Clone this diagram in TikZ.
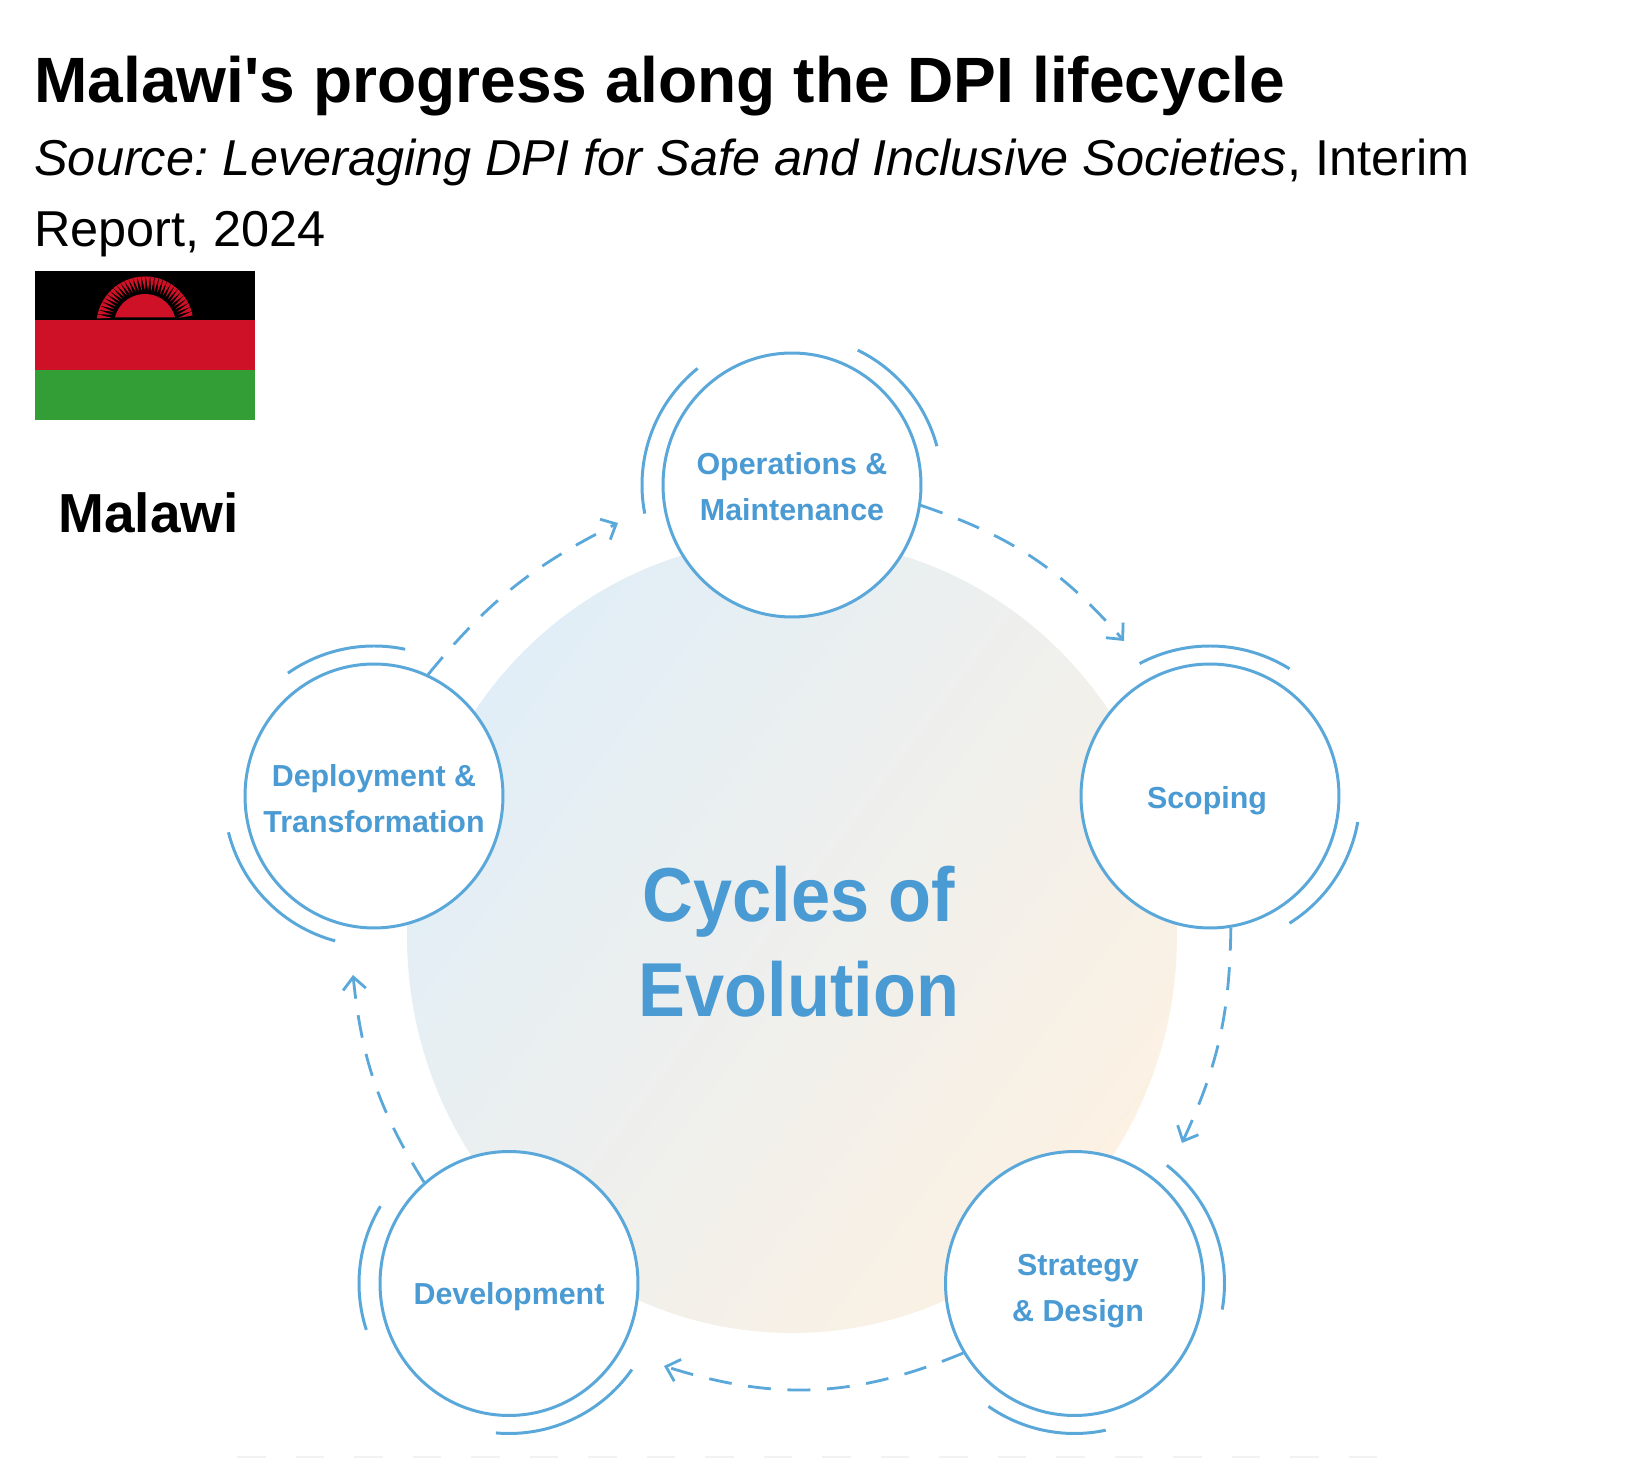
\documentclass[tikz,border=0pt]{standalone}
\usepackage{xcolor}
\usepackage{fontspec}
\setmainfont{Liberation Sans}
\newfontfamily\cyclefont[FakeStretch=0.92]{Liberation Sans}
\usetikzlibrary{arrows.meta, shapes.geometric}
\definecolor{cycleblue}{HTML}{4A9AD3}
\definecolor{ringblue}{HTML}{5AA7DA}
\definecolor{flagred}{HTML}{CE1126}
\definecolor{flaggreen}{HTML}{339E35}
\definecolor{discblue}{HTML}{E1EEF7}
\definecolor{discmiddle}{HTML}{F1F1EE}
\definecolor{discorange}{HTML}{FCF1E3}
\tikzset{
    headtext/.style={anchor=base west, inner sep=0pt},
    stagecircle/.style={ellipse, draw=ringblue, line width=1.7pt, fill=white, minimum width=5.16cm, minimum height=5.28cm, inner sep=0pt},
    stagetext/.style={align=center, inner sep=0pt, text=cycleblue, font=\fontsize{17.3}{26}\bfseries\selectfont},
    halo/.style={draw=ringblue, line width=1.7pt},
    flow/.style={draw=ringblue, line width=1.6pt, dash pattern=on 13pt off 9.5pt, -{Straight Barb[length=7pt,width=13pt]}}
}

\begin{document}
\begin{tikzpicture}[x=0.02cm, y=0.02cm]
        \useasboundingbox (0,0) rectangle (1647,1458);

        \node[headtext, font=\fontsize{36.47}{40}\bfseries\selectfont] (title) at (34,1355) {Malawi\textquotesingle s progress along the DPI lifecycle};
        \node[headtext, font=\fontsize{28.7}{30}\selectfont] (source) at (34,1282) {\frenchspacing\textit{Source: Leveraging DPI for Safe and Inclusive Societies}, Interim};
        \node[headtext, font=\fontsize{28.7}{30}\selectfont] (report) at (34,1211) {Report, 2024};
        \node[headtext, font=\fontsize{31.3}{34}\bfseries\selectfont] (country) at (58,925) {Malawi};

        \fill[black] (35,1187) rectangle (255,1138);
        \fill[flagred] (35,1138) rectangle (255,1088);
        \fill[flaggreen] (35,1088) rectangle (255,1038);
        \fill[flagred] (115,1140.7) arc (165.6:14.4:31) -- cycle;
        \foreach \a in {12,17.2,...,168}
            \fill[flagred] (145,1133) ++(\a:34.5) -- ++(\a-2.4:14) -- ++(\a+90:4.2) -- cycle;

        \shade[top color=discblue, middle color=discmiddle, bottom color=discorange, shading angle=53] (792,522) ellipse (385 and 397);

        \node[stagecircle] (ops) at (792,973) {};
        \node[stagecircle] (scoping) at (1210,662) {};
        \node[stagecircle] (strategy) at (1074.5,174.5) {};
        \node[stagecircle] (dev) at (509,174.5) {};
        \node[stagecircle] (deploy) at (374,662) {};

        \node[stagetext] (opstext) at (792,971.5) {Operations \&\\Maintenance};
        \node[stagetext] (scopingtext) at (1207,657) {Scoping};
        \node[stagetext] (strategytext) at (1078,167) {Strategy\\\& Design};
        \node[stagetext] (devtext) at (509,161) {Development};
        \node[stagetext] (deploytext) at (374,659.5) {Deployment \&\\Transformation};

        \node[align=center, inner sep=0pt, text=cycleblue, font=\fontsize{43.5}{53.9}\cyclefont\bfseries\selectfont] (cycle) at (799,516) {Cycles of\\Evolution};

        \foreach \c/\s/\e in {ops/129/191, ops/15/64, scoping/58/118, scoping/-58/-10, strategy/-10/52, strategy/235/282, dev/149/198, dev/-95/-35, deploy/78/125, deploy/194/255}
            \draw[halo] (\c.center) ++(\s:150) arc (\s:\e:150);

        \coordinate (opsend) at (1124,817);
        \coordinate (scopingend) at (1182,315);
        \coordinate (strategyend) at (664,92);
        \coordinate (devend) at (353,483);
        \coordinate (deployend) at (618,935);

        \draw[flow] (ops.-9) to[bend left=15] (opsend);
        \draw[flow] (scoping.-81) to[bend left=12] (scopingend);
        \draw[flow] (strategy.212) to[bend left=20] (strategyend);
        \draw[flow] (dev.130) to[bend left=13] (devend);
        \draw[flow] (deploy.66) to[bend left=12] (deployend);

        \draw[draw=black!5, line width=1.7pt, dash pattern=on 16.4pt off 16.9pt] (237,1) -- (1383,1);
    \end{tikzpicture}
\end{document}
